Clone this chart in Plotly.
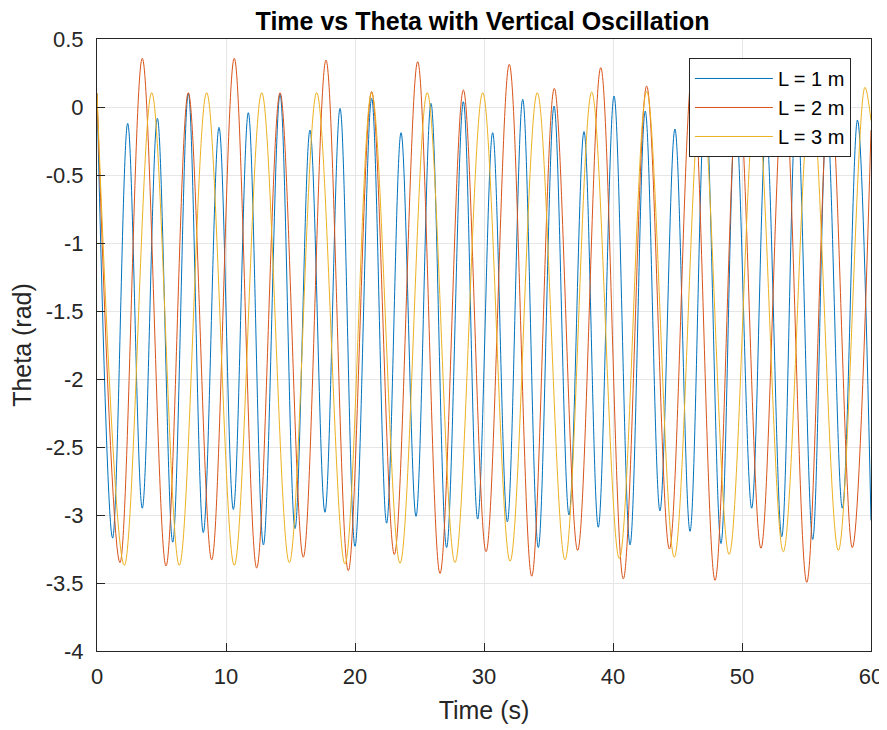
import plotly.graph_objects as go

# extrema (time in s, theta in rad)
t_L1 = [0, 1.21, 2.38, 3.51, 4.68, 5.87, 7.08, 8.24, 9.46, 10.57, 11.73, 12.9, 14.19,
        15.35, 16.51, 17.67, 18.84, 20.0, 21.29, 22.45, 23.57, 24.73, 25.89, 27.1, 28.4,
        29.51, 30.67, 31.81, 33.0, 34.21, 35.43, 36.59, 37.75, 38.86, 40.08, 41.32, 42.5,
        43.64, 44.8, 45.97, 47.15, 48.37, 49.5, 50.75, 51.87, 53.08, 54.23, 55.48, 56.58,
        57.78, 58.95, 60]
th_L1 = [0.1, -3.17, -0.12, -2.95, -0.083, -3.2, 0.1, -3.13, -0.15, -2.96, -0.042, -3.22, 0.093,
         -3.1, -0.17, -2.98, -0.01, -3.23, 0.064, -3.06, -0.189, -3.01, 0.027, -3.24, 0.039,
         -3.03, -0.189, -3.05, 0.057, -3.24, 0.007, -3.0, -0.18, -3.09, 0.081, -3.22, -0.03,
         -2.97, -0.162, -3.12, 0.08, -3.21, -0.05, -2.95, -0.15, -3.16, 0.07, -3.18, -0.06,
         -2.95, -0.096, -3.04]

t_L2 = [0, 1.78, 3.51, 5.35, 7.08, 8.89, 10.64, 12.38, 14.19, 15.99, 17.75, 19.48, 21.29,
        23.05, 24.86, 26.59, 28.4, 30.16, 31.96, 33.7, 35.45, 37.26, 39.05, 40.8, 42.61,
        44.37, 46.15, 47.91, 49.7, 51.47, 53.25, 55.02, 56.8, 58.55, 60]
th_L2 = [0.1, -3.35, 0.358, -3.375, 0.105, -3.33, 0.358, -3.39, 0.105, -3.31, 0.345, -3.41, 0.113,
         -3.29, 0.333, -3.43, 0.125, -3.27, 0.314, -3.45, 0.137, -3.26, 0.289, -3.47, 0.154,
         -3.25, 0.26, -3.48, 0.17, -3.245, 0.23, -3.495, 0.19, -3.24, -0.17]

t_L3 = [0, 2.12, 4.24, 6.38, 8.5, 10.64, 12.77, 14.91, 17.03, 19.22, 21.29, 23.49, 25.6,
        27.75, 29.9, 32.02, 34.13, 36.28, 38.35, 40.49, 42.61, 44.75, 46.85, 49.0, 51.1,
        53.2, 55.35, 57.47, 59.53, 60]
th_L3 = [0.1, -3.37, 0.105, -3.37, 0.105, -3.37, 0.105, -3.35, 0.105, -3.36, 0.105, -3.355, 0.105,
         -3.35, 0.105, -3.34, 0.105, -3.33, 0.11, -3.32, 0.115, -3.31, 0.12, -3.29, 0.125,
         -3.27, 0.135, -3.26, 0.145, -0.1]

series = [("L = 1 m", t_L1, th_L1, "#0072BD"),
          ("L = 2 m", t_L2, th_L2, "#D95319"),
          ("L = 3 m", t_L3, th_L3, "#EDB120")]

y_ticks = [0.5, 0, -0.5, -1, -1.5, -2, -2.5, -3, -3.5, -4]
y_labels = ["0.5", "0", "-0.5", "-1", "-1.5", "-2", "-2.5", "-3", "-3.5", "-4"]
x_ticks = [0, 10, 20, 30, 40, 50, 60]

fig = go.Figure()
for name, t, th, col in series:
    fig.add_trace(go.Scatter(x=t, y=th, name=name, mode="lines",
                             line=dict(color=col, width=1, shape="spline", smoothing=1.0)))

axis_style = dict(showline=True, linecolor="#262626", linewidth=1, mirror=True,
                  ticks="inside", ticklen=8, tickcolor="#262626", automargin=False,
                  showgrid=True, gridcolor="#e6e6e6", zeroline=False,
                  tickfont=dict(size=22, color="#262626"))

# page body adds an 8px offset, so margins are shifted to compensate
fig.update_layout(
    width=887, height=730,
    paper_bgcolor="white", plot_bgcolor="white",
    font=dict(family="Liberation Sans, Arial, sans-serif", color="#262626"),
    margin=dict(l=89, r=24, t=31, b=87),
    title=dict(text="<b>Time vs Theta with Vertical Oscillation</b>", x=0.535, xanchor="center",
               y=0.982, yanchor="middle", font=dict(size=25, color="black")),
    xaxis=dict(range=[0, 60], tickvals=x_ticks, ticklabelstandoff=6,
               title=dict(text="Time (s)", font=dict(size=25), standoff=13), **axis_style),
    yaxis=dict(range=[-4, 0.5], tickvals=y_ticks, ticktext=y_labels, ticklabelstandoff=8,
               title=dict(text="Theta (rad)", font=dict(size=25), standoff=12), **axis_style),
    legend=dict(x=0.974, y=0.969, xanchor="right", yanchor="top", itemwidth=78,
                bgcolor="white", bordercolor="#262626", borderwidth=1,
                font=dict(size=20, color="black"), tracegroupgap=0),
)

fig.write_html("out.html")
